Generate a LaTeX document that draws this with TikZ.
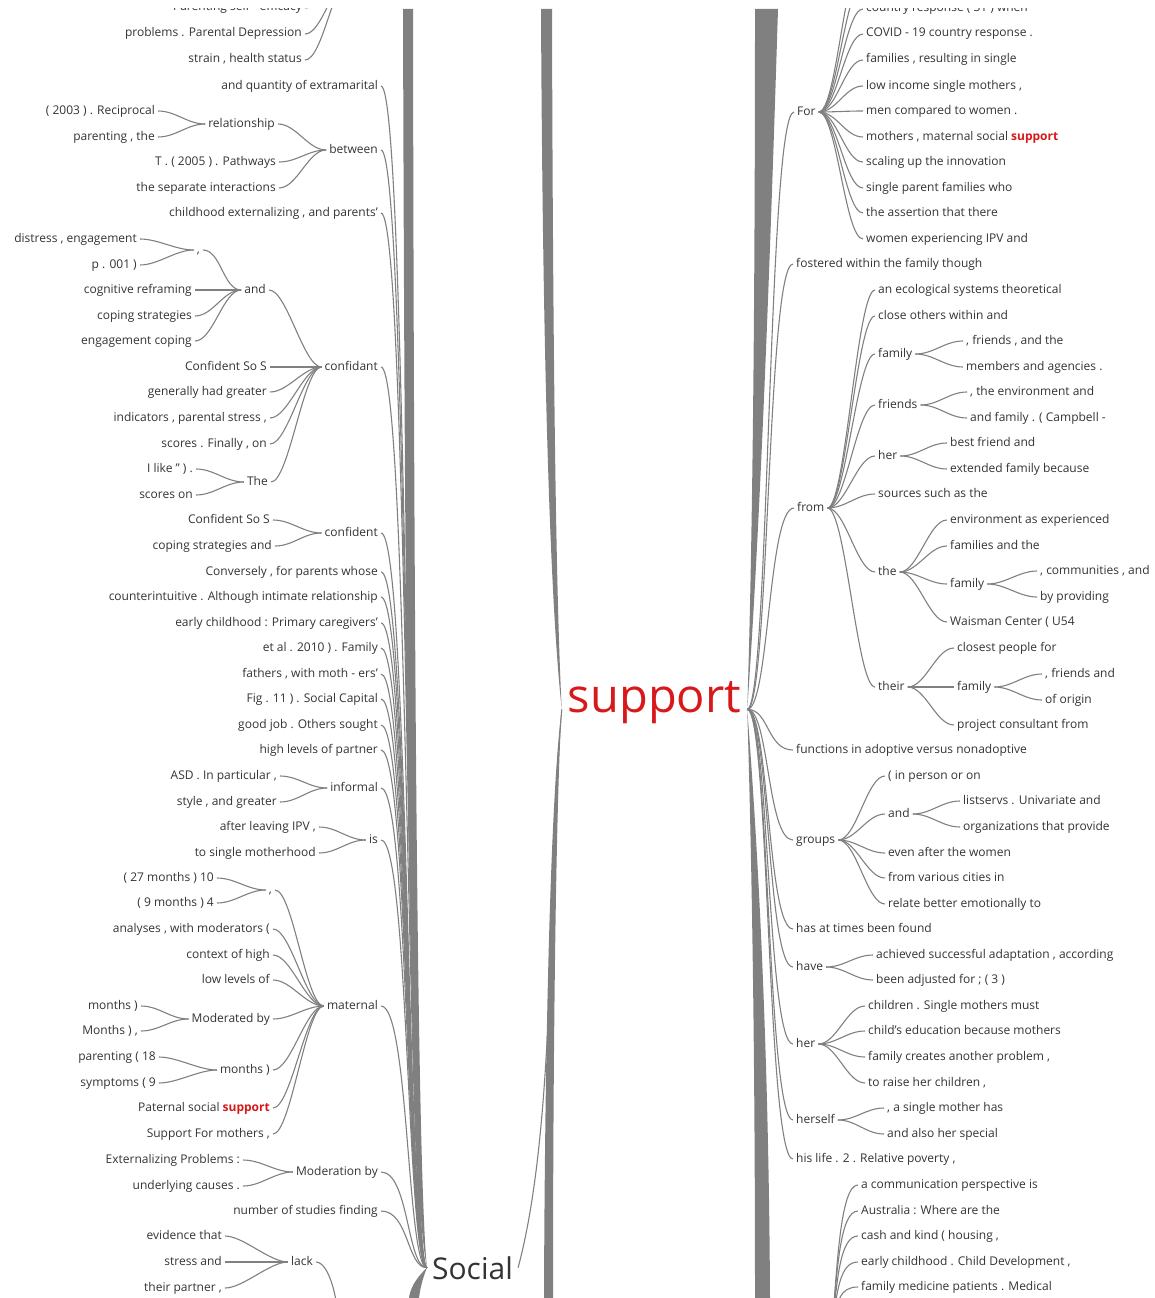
\documentclass[tikz,border=0pt]{standalone}
\usepackage{fontspec}
\setmainfont{Open Sans}
\definecolor{linkgray}{HTML}{808080}
\definecolor{wordgray}{HTML}{333333}
\definecolor{wordred}{HTML}{D7191C}
\newcommand{\hit}{\textcolor{wordred}{\bfseries support}}

\begin{document}
\begin{tikzpicture}[x=1pt, y=-1pt,
  word/.style={font=\fontsize{12}{14}\selectfont, text=wordgray, inner xsep=3pt, inner ysep=0pt,
    text height=9pt, text depth=3pt},
  lw/.style={word, anchor=east},
  rw/.style={word, anchor=west},
  link/.style={draw=linkgray, line width=1.1pt,
    to path={.. controls +(#1,0) and +(-#1,0) .. (\tikztotarget)}},
  link/.default=18,
  stem/.style 2 args={draw=linkgray, line width=1.1pt,
    to path={.. controls +(#1,0) and +(-#2,0) .. (\tikztotarget)}},
  bundle/.style={fill=linkgray}]

\useasboundingbox (0,0) rectangle (1155,1298);
\begin{scope}
\clip (0,9) rectangle (1155,1298);

\node[font=\fontsize{47}{50}\selectfont, text=wordred, inner xsep=6pt, inner ysep=0pt, anchor=base] (support) at (654.5,712) {support};
\node[font=\fontsize{30}{32}\selectfont, text=wordgray, inner xsep=5pt, inner ysep=0pt, anchor=base] (social) at (472.5,1279) {Social};

% words before "Social"
\node[lw] (pse) at (305,8) {Parenting self - efficacy};
\node[lw] (ppd) at (305,34) {problems . Parental Depression};
\node[lw] (shs) at (305,60) {strain , health status};
\node[lw] (aqe) at (381,86) {and quantity of extramarital};
\node[lw] (betw) at (381,150) {between};
\node[lw] (rel) at (278,124) {relationship};
\node[lw] (r03) at (158,111) {( 2003 ) . Reciprocal};
\node[lw] (rpt) at (158,137) {parenting , the};
\node[lw] (t05) at (279,162) {T . ( 2005 ) . Pathways};
\node[lw] (tsi) at (279,188) {the separate interactions};
\node[lw] (cep) at (381,213) {childhood externalizing , and parents'};
\node[lw] (cfd) at (381,367) {confidant};
\node[lw] (and1) at (269,290) {and};
\node[lw] (com1) at (203,250) {,};
\node[lw] (dse) at (140,239) {distress , engagement};
\node[lw] (p01) at (140,265) {p . 001 )};
\node[lw] (cfr) at (195,290) {cognitive reframing};
\node[lw] (cst) at (195,316) {coping strategies};
\node[lw] (ecp) at (195,341) {engagement coping};
\node[lw] (cso) at (270,367) {Confident So S};
\node[lw] (ghg) at (270,392) {generally had greater};
\node[lw] (ips) at (270,418) {indicators , parental stress ,};
\node[lw] (sfo) at (270,444) {scores . Finally , on};
\node[lw] (the1) at (271,482) {The};
\node[lw] (ilk) at (196,469) {I like " ) .};
\node[lw] (son) at (196,495) {scores on};
\node[lw] (cft) at (381,533) {confident};
\node[lw] (cso2) at (273,520) {Confident So S};
\node[lw] (csa) at (275,546) {coping strategies and};
\node[lw] (cnv) at (381,572) {Conversely , for parents whose};
\node[lw] (ctr) at (381,597) {counterintuitive . Although intimate relationship};
\node[lw] (ech) at (381,623) {early childhood : Primary caregivers'};
\node[lw] (eta) at (381,648) {et al . 2010 ) . Family};
\node[lw] (fwm) at (381,674) {fathers , with moth - ers'};
\node[lw] (fig) at (381,699) {Fig . 11 ) . Social Capital};
\node[lw] (gjo) at (381,725) {good job . Others sought};
\node[lw] (hlp) at (381,750) {high levels of partner};
\node[lw] (inf) at (381,788) {informal};
\node[lw] (asd) at (280,776) {ASD . In particular ,};
\node[lw] (sag) at (280,802) {style , and greater};
\node[lw] (isw) at (381,840) {is};
\node[lw] (alv) at (319,827) {after leaving IPV ,};
\node[lw] (tsm) at (319,853) {to single motherhood};
\node[lw] (mat) at (381,1006) {maternal};
\node[lw] (com2) at (275,890) {,};
\node[lw] (m27) at (217,878) {( 27 months ) 10};
\node[lw] (m09) at (217,903) {( 9 months ) 4};
\node[lw] (awm) at (273,929) {analyses , with moderators (};
\node[lw] (coh) at (273,955) {context of high};
\node[lw] (llo) at (273,980) {low levels of};
\node[lw] (mdb) at (273,1019) {Moderated by};
\node[lw] (mo1) at (141,1006) {months )};
\node[lw] (mo2) at (141,1031) {Months ) ,};
\node[lw] (mos) at (273,1070) {months )};
\node[lw] (p18) at (159,1057) {parenting ( 18};
\node[lw] (s09) at (159,1083) {symptoms ( 9};
\node[lw] (pss) at (273,1108) {Paternal social \hit};
\node[lw] (sfm) at (273,1134) {Support For mothers ,};
\node[lw] (mby) at (381,1172) {Moderation by};
\node[lw] (epr) at (243,1160) {Externalizing Problems :};
\node[lw] (uca) at (243,1186) {underlying causes .};
\node[lw] (nsf) at (381,1211) {number of studies finding};
\node[lw] (lack) at (316,1262) {lack};
\node[lw] (evt) at (225,1236) {evidence that};
\node[lw] (sta) at (225,1262) {stress and};
\node[lw] (tpa) at (225,1288) {their partner ,};
\coordinate (topgrp) at (352,-25);
\coordinate (lackdown) at (338,1325);

% words after "support"
\node[rw] (For) at (794,112) {For};
\node[rw] (crw) at (863,9) {country response ( 31 ) when};
\node[rw] (cov) at (863,34) {COVID - 19 country response .};
\node[rw] (frs) at (863,60) {families , resulting in single};
\node[rw] (lis) at (863,86) {low income single mothers ,};
\node[rw] (mcw) at (863,111) {men compared to women .};
\node[rw] (mms) at (863,137) {mothers , maternal social \hit};
\node[rw] (sui) at (863,162) {scaling up the innovation};
\node[rw] (spf) at (863,188) {single parent families who};
\node[rw] (tat) at (863,213) {the assertion that there};
\node[rw] (wei) at (863,239) {women experiencing IPV and};
\node[rw] (fos) at (793,264) {fostered within the family though};
\node[rw] (from) at (794,508) {from};
\node[rw] (est) at (875,290) {an ecological systems theoretical};
\node[rw] (cow) at (875,316) {close others within and};
\node[rw] (fam1) at (875,354) {family};
\node[rw] (ff1) at (963,341) {, friends , and the};
\node[rw] (maa) at (963,367) {members and agencies .};
\node[rw] (fri) at (875,405) {friends};
\node[rw] (ten) at (967,392) {, the environment and};
\node[rw] (afc) at (967,418) {and family . ( Campbell -};
\node[rw] (her2) at (875,456) {her};
\node[rw] (bfa) at (947,443) {best friend and};
\node[rw] (efb) at (947,469) {extended family because};
\node[rw] (ssa) at (875,494) {sources such as the};
\node[rw] (the2) at (875,572) {the};
\node[rw] (eae) at (947,520) {environment as experienced};
\node[rw] (fat) at (947,546) {families and the};
\node[rw] (fam2) at (947,584) {family};
\node[rw] (cma) at (1037,571) {, communities , and};
\node[rw] (bpr) at (1037,597) {by providing};
\node[rw] (wcu) at (947,622) {Waisman Center ( U54};
\node[rw] (thr) at (875,687) {their};
\node[rw] (cpf) at (954,648) {closest people for};
\node[rw] (fam3) at (954,687) {family};
\node[rw] (fra) at (1042,674) {, friends and};
\node[rw] (ooo) at (1042,700) {of origin};
\node[rw] (pcf) at (954,725) {project consultant from};
\node[rw] (fun) at (793,750) {functions in adoptive versus nonadoptive};
\node[rw] (grp) at (793,840) {groups};
\node[rw] (ipo) at (885,776) {( in person or on};
\node[rw] (and2) at (885,814) {and};
\node[rw] (lsu) at (960,801) {listservs . Univariate and};
\node[rw] (otp) at (960,827) {organizations that provide};
\node[rw] (eaw) at (885,853) {even after the women};
\node[rw] (fvc) at (885,878) {from various cities in};
\node[rw] (rbe) at (885,904) {relate better emotionally to};
\node[rw] (hat) at (793,929) {has at times been found};
\node[rw] (have) at (793,967) {have};
\node[rw] (ach) at (873,955) {achieved successful adaptation , according};
\node[rw] (bad) at (873,980) {been adjusted for ; ( 3 )};
\node[rw] (her1) at (793,1044) {her};
\node[rw] (csm) at (865,1006) {children . Single mothers must};
\node[rw] (ceb) at (865,1031) {child's education because mothers};
\node[rw] (fca) at (865,1057) {family creates another problem ,};
\node[rw] (trh) at (865,1083) {to raise her children ,};
\node[rw] (hsf) at (793,1120) {herself};
\node[rw] (asm) at (884,1108) {, a single mother has};
\node[rw] (ahs) at (884,1134) {and also her special};
\node[rw] (hlr) at (793,1159) {his life . 2 . Relative poverty ,};
\node[rw] (acp) at (858,1185) {a communication perspective is};
\node[rw] (awa) at (858,1211) {Australia : Where are the};
\node[rw] (cak) at (858,1236) {cash and kind ( housing ,};
\node[rw] (ecd) at (858,1262) {early childhood . Child Development ,};
\node[rw] (fmp) at (858,1287) {family medicine patients . Medical};
\coordinate (forup1) at (863,-16);
\coordinate (forup2) at (863,-42);
\coordinate (botgrp) at (832,1330);

% bundles of links running off the picture
\fill[bundle] (403,9) .. controls (405,700) and (409,1180) .. (social.west)
  .. controls (418,1180) and (414,700) .. (413,9) -- cycle;
\fill[bundle] (social.west) .. controls (414,1280) and (410,1290) .. (409,1298)
  -- (419,1298) .. controls (420,1290) and (422,1280) .. (social.west);
\fill[bundle] (541,9) .. controls (543,420) and (552,620) .. (support.mid west)
  .. controls (557,620) and (553,420) .. (552,9) -- cycle;
\fill[bundle] (support.mid west) .. controls (552,780) and (545,1000) .. (544,1298)
  -- (553,1298) .. controls (553,1000) and (557,780) .. (support.mid west);
\fill[bundle] (support.mid east) .. controls (754,500) and (755,200) .. (755,9)
  -- (778,9) .. controls (772,200) and (762,500) .. (support.mid east);
\fill[bundle] (support.mid east) .. controls (753,900) and (755,1100) .. (755,1298)
  -- (770,1298) .. controls (769,1100) and (762,900) .. (support.mid east);

\draw[link] (social.east) .. controls +(39,-145) and +(-14,160) .. (support.mid west);

\draw[link] (pse.east) to (topgrp);
\draw[link] (ppd.east) to (topgrp);
\draw[link] (shs.east) to (topgrp);
\draw[stem={28}{20}] (aqe.east) to (social.west);
\draw[stem={28}{20}] (betw.east) to (social.west);
\draw[stem={28}{20}] (cep.east) to (social.west);
\draw[stem={28}{20}] (cfd.east) to (social.west);
\draw[stem={28}{20}] (cft.east) to (social.west);
\draw[stem={28}{20}] (cnv.east) to (social.west);
\draw[stem={28}{20}] (ctr.east) to (social.west);
\draw[stem={28}{20}] (ech.east) to (social.west);
\draw[stem={28}{20}] (eta.east) to (social.west);
\draw[stem={28}{20}] (fwm.east) to (social.west);
\draw[stem={28}{20}] (fig.east) to (social.west);
\draw[stem={28}{20}] (gjo.east) to (social.west);
\draw[stem={28}{20}] (hlp.east) to (social.west);
\draw[stem={28}{20}] (inf.east) to (social.west);
\draw[stem={28}{20}] (isw.east) to (social.west);
\draw[stem={28}{20}] (mat.east) to (social.west);
\draw[stem={28}{20}] (mby.east) to (social.west);
\draw[stem={28}{20}] (nsf.east) to (social.west);
\draw[link] (lack.east) .. controls +(12,0) and +(0,-30) .. (lackdown);

\draw[link] (rel.east) to (betw.west);
\draw[link] (t05.east) to (betw.west);
\draw[link] (tsi.east) to (betw.west);
\draw[link] (r03.east) to (rel.west);
\draw[link] (rpt.east) to (rel.west);
\draw[link] (and1.east) to (cfd.west);
\draw[link] (cso.east) to (cfd.west);
\draw[link] (ghg.east) to (cfd.west);
\draw[link] (ips.east) to (cfd.west);
\draw[link] (sfo.east) to (cfd.west);
\draw[link] (the1.east) to (cfd.west);
\draw[link] (com1.east) to (and1.west);
\draw[link] (cfr.east) to (and1.west);
\draw[link] (cst.east) to (and1.west);
\draw[link] (ecp.east) to (and1.west);
\draw[link] (dse.east) to (com1.west);
\draw[link] (p01.east) to (com1.west);
\draw[link] (ilk.east) to (the1.west);
\draw[link] (son.east) to (the1.west);
\draw[link] (cso2.east) to (cft.west);
\draw[link] (csa.east) to (cft.west);
\draw[link] (asd.east) to (inf.west);
\draw[link] (sag.east) to (inf.west);
\draw[link] (alv.east) to (isw.west);
\draw[link] (tsm.east) to (isw.west);
\draw[link] (com2.east) to (mat.west);
\draw[link] (awm.east) to (mat.west);
\draw[link] (coh.east) to (mat.west);
\draw[link] (llo.east) to (mat.west);
\draw[link] (mdb.east) to (mat.west);
\draw[link] (mos.east) to (mat.west);
\draw[link] (pss.east) to (mat.west);
\draw[link] (sfm.east) to (mat.west);
\draw[link] (m27.east) to (com2.west);
\draw[link] (m09.east) to (com2.west);
\draw[link] (mo1.east) to (mdb.west);
\draw[link] (mo2.east) to (mdb.west);
\draw[link] (p18.east) to (mos.west);
\draw[link] (s09.east) to (mos.west);
\draw[link] (epr.east) to (mby.west);
\draw[link] (uca.east) to (mby.west);
\draw[link] (evt.east) to (lack.west);
\draw[link] (sta.east) to (lack.west);
\draw[link] (tpa.east) to (lack.west);

\draw[stem={22}{26}] (support.mid east) to (For.west);
\draw[stem={22}{26}] (support.mid east) to (fos.west);
\draw[stem={22}{26}] (support.mid east) to (from.west);
\draw[stem={22}{26}] (support.mid east) to (fun.west);
\draw[stem={22}{26}] (support.mid east) to (grp.west);
\draw[stem={22}{26}] (support.mid east) to (hat.west);
\draw[stem={22}{26}] (support.mid east) to (have.west);
\draw[stem={22}{26}] (support.mid east) to (her1.west);
\draw[stem={22}{26}] (support.mid east) to (hsf.west);
\draw[stem={22}{26}] (support.mid east) to (hlr.west);

\draw[link] (For.east) to (forup2);
\draw[link] (For.east) to (forup1);
\draw[link] (For.east) to (crw.west);
\draw[link] (For.east) to (cov.west);
\draw[link] (For.east) to (frs.west);
\draw[link] (For.east) to (lis.west);
\draw[link] (For.east) to (mcw.west);
\draw[link] (For.east) to (mms.west);
\draw[link] (For.east) to (sui.west);
\draw[link] (For.east) to (spf.west);
\draw[link] (For.east) to (tat.west);
\draw[link] (For.east) to (wei.west);
\draw[link] (from.east) to (est.west);
\draw[link] (from.east) to (cow.west);
\draw[link] (from.east) to (fam1.west);
\draw[link] (from.east) to (fri.west);
\draw[link] (from.east) to (her2.west);
\draw[link] (from.east) to (ssa.west);
\draw[link] (from.east) to (the2.west);
\draw[link] (from.east) to (thr.west);
\draw[link] (fam1.east) to (ff1.west);
\draw[link] (fam1.east) to (maa.west);
\draw[link] (fri.east) to (ten.west);
\draw[link] (fri.east) to (afc.west);
\draw[link] (her2.east) to (bfa.west);
\draw[link] (her2.east) to (efb.west);
\draw[link] (the2.east) to (eae.west);
\draw[link] (the2.east) to (fat.west);
\draw[link] (the2.east) to (fam2.west);
\draw[link] (the2.east) to (wcu.west);
\draw[link] (fam2.east) to (cma.west);
\draw[link] (fam2.east) to (bpr.west);
\draw[link] (thr.east) to (cpf.west);
\draw[link] (thr.east) to (fam3.west);
\draw[link] (thr.east) to (pcf.west);
\draw[link] (fam3.east) to (fra.west);
\draw[link] (fam3.east) to (ooo.west);
\draw[link] (grp.east) to (ipo.west);
\draw[link] (grp.east) to (and2.west);
\draw[link] (grp.east) to (eaw.west);
\draw[link] (grp.east) to (fvc.west);
\draw[link] (grp.east) to (rbe.west);
\draw[link] (and2.east) to (lsu.west);
\draw[link] (and2.east) to (otp.west);
\draw[link] (have.east) to (ach.west);
\draw[link] (have.east) to (bad.west);
\draw[link] (her1.east) to (csm.west);
\draw[link] (her1.east) to (ceb.west);
\draw[link] (her1.east) to (fca.west);
\draw[link] (her1.east) to (trh.west);
\draw[link] (hsf.east) to (asm.west);
\draw[link] (hsf.east) to (ahs.west);
\draw[link] (botgrp) .. controls +(5,-60) and +(-18,0) .. (acp.west);
\draw[link] (botgrp) .. controls +(5,-60) and +(-18,0) .. (awa.west);
\draw[link] (botgrp) .. controls +(5,-50) and +(-18,0) .. (cak.west);
\draw[link] (botgrp) .. controls +(5,-40) and +(-18,0) .. (ecd.west);
\draw[link] (botgrp) .. controls +(5,-30) and +(-18,0) .. (fmp.west);
\end{scope}
\end{tikzpicture}
\end{document}
